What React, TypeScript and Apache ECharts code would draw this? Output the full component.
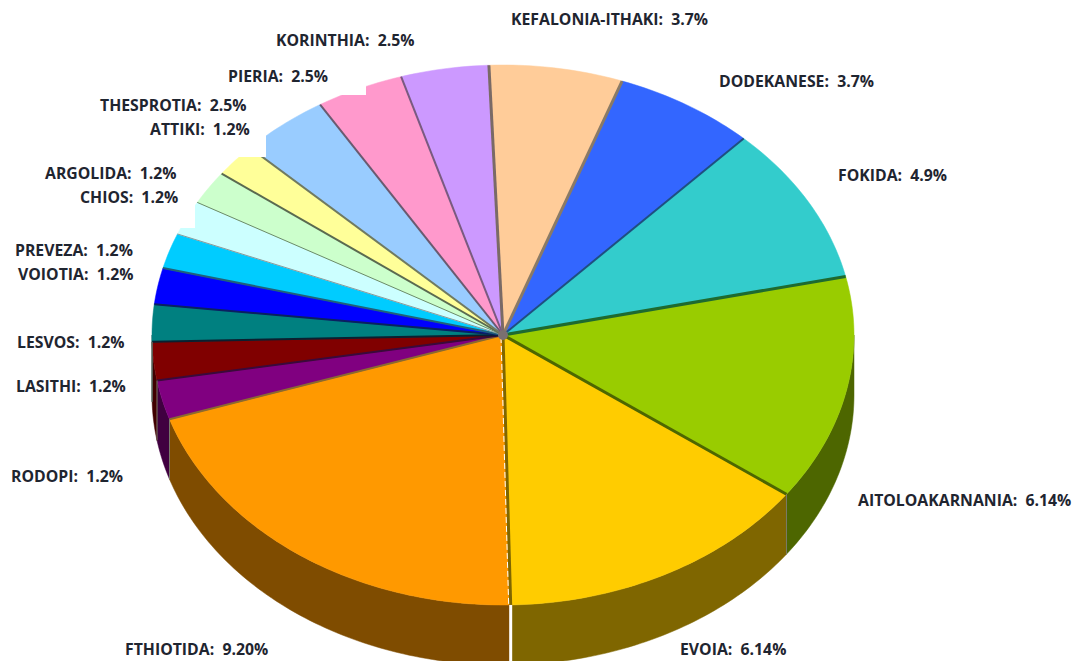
import React, { useEffect, useRef } from "react";
import * as echarts from "echarts";

// Prefectures in clockwise order, starting at the back of the pie.
const regions = [
  "KEFALONIA-ITHAKI", "DODEKANESE", "FOKIDA", "AITOLOAKARNANIA", "EVOIA", "FTHIOTIDA",
  "RODOPI", "LASITHI", "LESVOS", "VOIOTIA", "PREVEZA", "CHIOS", "ARGOLIDA", "ATTIKI",
  "THESPROTIA", "PIERIA", "KORINTHIA",
];
const shares = [3.7, 3.7, 4.9, 6.14, 6.14, 9.2, 1.2, 1.2, 1.2, 1.2, 1.2, 1.2, 1.2, 1.2, 2.5, 2.5, 2.5];
const shareLabels = ["3.7%", "3.7%", "4.9%", "6.14%", "6.14%", "9.20%", "1.2%", "1.2%", "1.2%", "1.2%", "1.2%", "1.2%", "1.2%", "1.2%", "2.5%", "2.5%", "2.5%"];

const faceColors = [
  "#FFCC99", "#3366FF", "#33CCCC", "#99CC00", "#FFCC00", "#FF9900", "#800080", "#800000",
  "#008080", "#0000FF", "#00CCFF", "#CCFFFF", "#CCFFCC", "#FFFF99", "#99CCFF", "#FF99CC", "#CC99FF",
];
const wallColors = [
  "#806650", "#1A3380", "#1A6666", "#4D6600", "#7F6600", "#7F4C00", "#400040", "#400000",
  "#004040", "#000080", "#006680", "#668080", "#668066", "#808050", "#4D6680", "#804D66", "#664D80",
];
// Colour and width of the spoke at the leading edge of each slice.
const spokeColors = [
  "#7A6A66", "#8A7A66", "#1F4F80", "#1E6A30", "#4D6600", "#7F6600", "#8A6A30", "#3A0A3A",
  "#0A2030", "#0A2060", "#20607A", "#8A9A9A", "#6A8A6A", "#5A6A50", "#707A60", "#6A5A70", "#7A5A80",
];
const spokeWidths = [3, 3, 2, 3, 3, 3, 2, 2, 2, 2, 2, 1, 1, 2, 2, 2, 2];

// Left edge and vertical middle of every label, in the order of `regions`.
const labelX = [511, 719, 838, 858, 680, 125, 11, 16, 17, 18, 15, 80, 45, 150, 100, 228, 276];
const labelY = [19, 81, 175, 500, 649, 649, 476, 386, 342, 274, 250, 197, 173, 129, 105, 76, 40];
// White plates under the label groups: x, y, width, height.
const labelPlates = [
  [220, 30, 146, 65],
  [90, 90, 176, 67],
  [30, 150, 165, 78],
  [0, 232, 154, 60],
];

const CENTER_X = 503;
const CENTER_Y = 335;
const RADIUS_X = 351;
const RADIUS_Y = 270;
const DEPTH = 60;
// Camera: azimuth of the squeezed side of the rim, foreshortening, and where the first slice starts.
const CAMERA_AZIMUTH = -20;
const PERSPECTIVE = 0.82;
const START_ANGLE = 21.5;

const total = shares.reduce((a, b) => a + b, 0);
const cumulative: number[] = [];
shares.reduce((acc, v, i) => {
  cumulative[i] = acc;
  return acc + v;
}, 0);

const rad = (d: number) => (d * Math.PI) / 180;

// Angle on the drawn ellipse for an angle on the pie, measured from the camera azimuth.
function project(theta: number) {
  const turns = Math.floor((theta + 180) / 360);
  const local = theta - turns * 360;
  return (
    CAMERA_AZIMUTH +
    (2 * Math.atan(PERSPECTIVE * Math.tan(rad(local) / 2)) * 180) / Math.PI +
    turns * 360
  );
}
const sliceStart = (i: number) => project(START_ANGLE + (cumulative[i] / total) * 360);
const sliceEnd = (i: number) => project(START_ANGLE + ((cumulative[i] + shares[i]) / total) * 360);
const rim = (t: number, dy = 0): [number, number] => [
  CENTER_X + RADIUS_X * Math.sin(rad(t)),
  CENTER_Y - RADIUS_Y * Math.cos(rad(t)) + dy,
];
function arc(from: number, to: number, dy = 0) {
  const pts: [number, number][] = [];
  const steps = Math.max(2, Math.ceil(Math.abs(to - from)));
  for (let s = 0; s <= steps; s++) pts.push(rim(from + ((to - from) * s) / steps, dy));
  return pts;
}

function renderSlice(params: any) {
  const i = params.dataIndex;
  const a = sliceStart(i);
  const b = sliceEnd(i);
  const children: any[] = [];
  const wa = Math.max(a, 90);
  const wb = Math.min(b, 270);
  if (wb > wa) {
    children.push({
      type: "polygon",
      shape: { points: [...arc(wa, wb), ...arc(wb, wa, DEPTH)] },
      style: { fill: wallColors[i], stroke: wallColors[i], lineWidth: 0.5 },
    });
  }
  children.push({
    type: "polygon",
    shape: { points: [[CENTER_X, CENTER_Y], ...arc(a, b)] },
    style: { fill: faceColors[i], stroke: faceColors[i], lineWidth: 0.5 },
  });
  return { type: "group", children };
}

function renderSpoke(params: any) {
  const i = params.dataIndex;
  const t = sliceStart(i);
  const [x, y] = rim(t);
  const children: any[] = [
    {
      type: "line",
      shape: { x1: CENTER_X, y1: CENTER_Y, x2: x, y2: y },
      style: { stroke: spokeColors[i], lineWidth: spokeWidths[i] },
    },
  ];
  if (regions[i] === "FTHIOTIDA") {
    children.push({
      type: "line",
      shape: { x1: CENTER_X - 2, y1: CENTER_Y + 2, x2: x - 2, y2: y },
      style: { stroke: "#FFFFFF", lineWidth: 1, lineDash: [6, 3] },
    });
  }
  if (t > 90 && t < 270) {
    const seam = regions[i] === "FTHIOTIDA";
    children.push({
      type: "line",
      shape: { x1: x, y1: y, x2: x, y2: y + DEPTH },
      style: { stroke: seam ? "#FFFFFF" : "#7A7A6A", lineWidth: seam ? 3 : 1 },
    });
  }
  return { type: "group", children };
}

function renderPlate(params: any) {
  const [x, y, w, h] = labelPlates[params.dataIndex];
  return { type: "rect", shape: { x, y, width: w, height: h }, style: { fill: "#FFFFFF" } };
}

function renderLabel(params: any) {
  const i = params.dataIndex;
  return {
    type: "text",
    x: labelX[i],
    y: labelY[i],
    style: {
      text: `${regions[i]}:  ${shareLabels[i]}`,
      fill: "#1F2530",
      font: 'bold 15.8px "Open Sans", sans-serif',
      textAlign: "left",
      textVerticalAlign: "middle",
    },
  };
}

export default function App() {
  const ref = useRef<HTMLDivElement>(null);
  useEffect(() => {
    const chart = echarts.init(ref.current!, null, { renderer: "svg" });
    chart.setOption({
      animation: false,
      backgroundColor: "#FFFFFF",
      series: [
        { type: "custom", coordinateSystem: "none", z: 2, silent: true, renderItem: renderSlice, data: shares },
        { type: "custom", coordinateSystem: "none", z: 3, silent: true, renderItem: renderSpoke, data: shares },
        { type: "custom", coordinateSystem: "none", z: 4, silent: true, renderItem: renderPlate, data: labelPlates.map((_, i) => i) },
        { type: "custom", coordinateSystem: "none", z: 5, silent: true, renderItem: renderLabel, data: shares },
      ],
      graphic: [
        {
          type: "circle",
          z: 4,
          shape: { cx: CENTER_X, cy: CENTER_Y, r: 5 },
          style: { fill: "#7A7070" },
        },
      ],
    });
    return () => chart.dispose();
  }, []);
  return <div ref={ref} style={{ position: "fixed", left: 0, top: 0, width: 1077, height: 661 }} />;
}
